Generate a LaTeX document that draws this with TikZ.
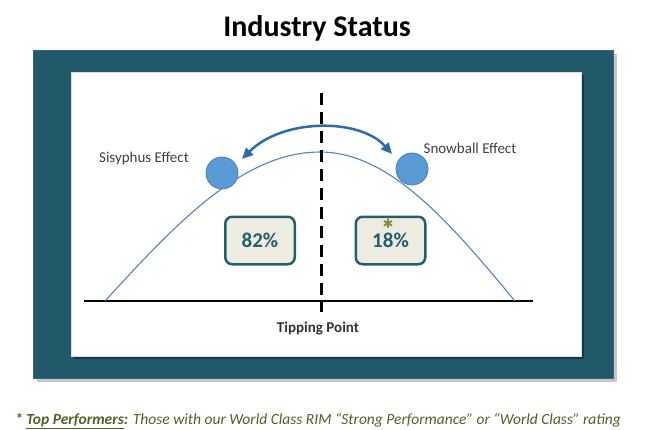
\documentclass[tikz,border=0pt]{standalone}
\usepackage{fontspec}
\setmainfont{Carlito}
\newfontfamily\symbolfont{DejaVu Sans}
\usetikzlibrary{arrows.meta,positioning}
\definecolor{frameteal}{HTML}{215968}
\definecolor{frameedge}{HTML}{3A5F8C}
\definecolor{ballblue}{HTML}{5B9BD5}
\definecolor{balledge}{HTML}{4A7EBB}
\definecolor{arrowblue}{HTML}{2E6CA4}
\definecolor{curveblue}{HTML}{5284BE}
\definecolor{boxfill}{HTML}{EEECE1}
\definecolor{boxedge}{HTML}{235F6E}
\definecolor{stargreen}{HTML}{77933C}
\definecolor{notegreen}{HTML}{4F6228}
\definecolor{labelgray}{HTML}{404040}
\tikzset{
  ball/.style={circle, fill=ballblue, draw=balledge, line width=0.8pt, minimum size=32pt, inner sep=0pt},
  pctbox/.style={rounded corners=7pt, draw=boxedge, fill=boxfill, line width=2.5pt,
    minimum width=69.5pt, minimum height=47.5pt, text=boxedge, font=\fontsize{21}{24}\selectfont\bfseries},
  effect/.style={text=labelgray, font=\fontsize{15}{18}\selectfont, inner sep=0pt},
  flow/.style={arrowblue, line width=2.5pt, {Triangle[length=11pt,width=10pt]}-{Triangle[length=11pt,width=10pt]}},
  tipline/.style={line width=3pt, dash pattern=on 12pt off 7pt},
}

\begin{document}
\begin{tikzpicture}[x=1pt,y=-1pt]
	%%%%% START %%%%%
	\useasboundingbox (0,0) rectangle (650,429);
	\fill[white] (0,0) rectangle (650,429);
	
	\node[font=\fontsize{30}{34}\selectfont\bfseries, anchor=base, inner sep=0pt] (title) at (317,36) {Industry Status};
	
	% frame with its shadows
	\fill[black, opacity=0.22] (37,54) rectangle (617,382);
	\draw[frameedge, fill=frameteal, line width=1pt] (33,50) rectangle (613,378);
	\fill[black, opacity=0.35] (74,75) rectangle (584,359);
	\draw[fill=white, draw=blue!15] (71,72) rectangle (581,356);
	
	% axis and curve
	\draw[line width=1.5pt] (84,301) -- (533,301);
	\draw[curveblue, line width=1.1pt] plot[domain=0:90, samples=45] ({320-2.389*\x}, {301-149*cos(\x)});
	\draw[curveblue, line width=1.1pt] plot[domain=0:90, samples=45] ({320+2.167*\x}, {301-149*cos(\x)});
	
	\draw[tipline] (321,93) -- (321,312);
	\node[font=\fontsize{15}{18}\selectfont\bfseries, text=black!80, inner sep=0pt] (tipping) at (318,328) {Tipping Point};
	
	% balls and arrow
	\node[ball] (sisyball) at (222,173) {};
	\node[ball] (snowball) at (412,169) {};
	\node[effect] (sisy) at (144,158) {Sisyphus Effect};
	\node[effect] (snow) at (470,148) {Snowball Effect};
	\coordinate (sisytip) at (242,159);
	\coordinate (snowtip) at (392,154);
	\draw[flow] (sisytip) .. controls (283,118) and (360,118) .. (snowtip);
	
	% shares
	\node[pctbox] (lowshare) at (260,240.5) {82\%};
	\node[pctbox] (topshare) at (390.5,240.5) {18\%};
	\node[text=stargreen, font=\symbolfont\fontsize{13}{13}\selectfont, inner sep=0pt, text height=5pt, text depth=0pt] (star) at (388,225.5) {✱};
	
	% footnote
	\node[anchor=base west, inner sep=0pt, text=notegreen, font=\fontsize{15.5}{18}\selectfont\itshape] (note) at (15,424)
		{\textbf{*} \textbf{\underline{Top Performers}:} Those with our World Class RIM “Strong Performance” or “World Class” rating};
	%%%%% END %%%%%
\end{tikzpicture}
\end{document}
